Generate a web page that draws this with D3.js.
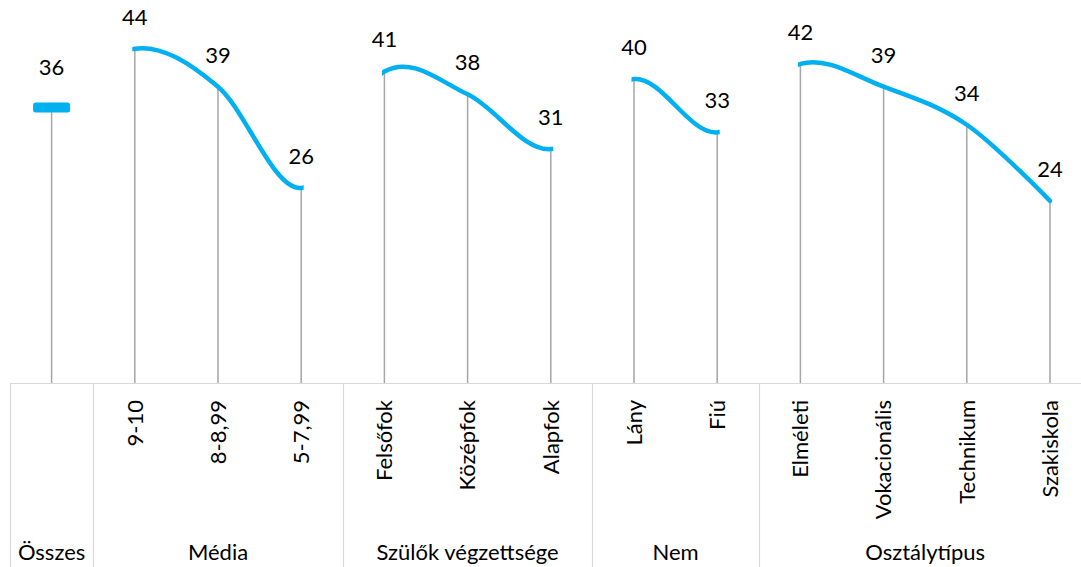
<!DOCTYPE html>
<html>
<head>
<meta charset="utf-8">
<script src="https://cdn.jsdelivr.net/npm/d3@7"></script>
<style>
  body { margin: 0; background: #fff; }
  text { font-family: Lato, "Liberation Sans", sans-serif; fill: #000; }
</style>
</head>
<body>
<div id="chart"></div>
<script>
const width = 1081;
const height = 567;

// data
const groups = ["Összes", "Média", "Szülők végzettsége", "Nem", "Osztálytípus"];
const categories = ["", "9-10", "8-8,99", "5-7,99", "Felsőfok", "Középfok", "Alapfok",
  "Lány", "Fiú", "Elméleti", "Vokacionális", "Technikum", "Szakiskola"];
const groupOf = [0, 1, 1, 1, 2, 2, 2, 3, 3, 4, 4, 4, 4];
const values = [36, 44, 39, 25.7, 41, 38, 30.8, 40, 33, 42, 39, 34, 24];

const axisY = 383.5;

const svg = d3.select("#chart")
  .append("svg")
  .attr("width", width)
  .attr("height", height);

const idx = d3.range(categories.length);

const x = d3.scaleBand().domain(idx).range([10, 1091.6]);
const y = d3.scaleLinear().domain([0, 50]).range([axisY, 3]);
const cx = i => x(i) + x.bandwidth() / 2;

// drop lines
svg.append("g")
  .selectAll("line")
  .data(idx)
  .join("line")
    .attr("x1", cx).attr("x2", cx)
    .attr("y1", i => y(values[i]))
    .attr("y2", axisY)
    .attr("stroke", "#a6a6a6")
    .attr("stroke-width", 1.5);

// one smooth line through all points, only the segments inside a group are shown
const line = d3.line()
  .x(i => cx(i))
  .y(i => y(values[i]))
  .curve(d3.curveCardinal.tension(0));

const defs = svg.append("defs");
groups.forEach(function(g, gi) {
  const members = idx.filter(i => groupOf[i] === gi);
  if (members.length < 2) return;
  defs.append("clipPath")
      .attr("id", "clip" + gi)
    .append("rect")
      .attr("x", cx(members[0]) - 2.5)
      .attr("y", 0)
      .attr("width", cx(members[members.length - 1]) - cx(members[0]) + 5)
      .attr("height", height);
  svg.append("path")
      .datum(idx)
      .attr("clip-path", "url(#clip" + gi + ")")
      .attr("fill", "none")
      .attr("stroke", "#00b0f0")
      .attr("stroke-width", 4.5)
      .attr("stroke-linecap", "round")
      .attr("d", line);
});

// single point group gets a dash marker
idx.filter(i => idx.filter(j => groupOf[j] === groupOf[i]).length === 1)
  .forEach(function(i) {
    svg.append("rect")
      .attr("x", cx(i) - 18.5)
      .attr("y", y(values[i]) - 7)
      .attr("width", 37)
      .attr("height", 10)
      .attr("rx", 2.5)
      .attr("fill", "#00b0f0");
  });

// value labels
svg.append("g")
  .selectAll("text")
  .data(idx)
  .join("text")
    .attr("x", cx)
    .attr("y", i => y(values[i]) - (i === 0 ? 35 : 24))
    .attr("text-anchor", "middle")
    .style("font-size", "22px")
    .text(i => d3.format(".0f")(values[i]));

// category axis
svg.append("line")
  .attr("x1", x(0)).attr("x2", width)
  .attr("y1", axisY).attr("y2", axisY)
  .attr("stroke", "#d9d9d9")
  .attr("stroke-width", 1.2);

const groupStarts = groups.map((g, gi) => idx.find(i => groupOf[i] === gi));

svg.append("g")
  .selectAll("line")
  .data(groupStarts)
  .join("line")
    .attr("x1", i => Math.round(x(i)) + 0.5)
    .attr("x2", i => Math.round(x(i)) + 0.5)
    .attr("y1", axisY)
    .attr("y2", height)
    .attr("stroke", "#d9d9d9")
    .attr("stroke-width", 1.2);

svg.append("g")
  .selectAll("text")
  .data(idx)
  .join("text")
    .attr("transform", i => `translate(${cx(i)},400) rotate(-90)`)
    .attr("dy", "0.35em")
    .attr("text-anchor", "end")
    .style("font-size", "22px")
    .text(i => categories[i]);

svg.append("g")
  .selectAll("text")
  .data(groups)
  .join("text")
    .attr("x", function(g, gi) {
      const members = idx.filter(i => groupOf[i] === gi);
      return (x(members[0]) + x(members[members.length - 1]) + x.bandwidth()) / 2;
    })
    .attr("y", 560)
    .attr("text-anchor", "middle")
    .style("font-size", "22px")
    .text(g => g);
</script>
</body>
</html>
